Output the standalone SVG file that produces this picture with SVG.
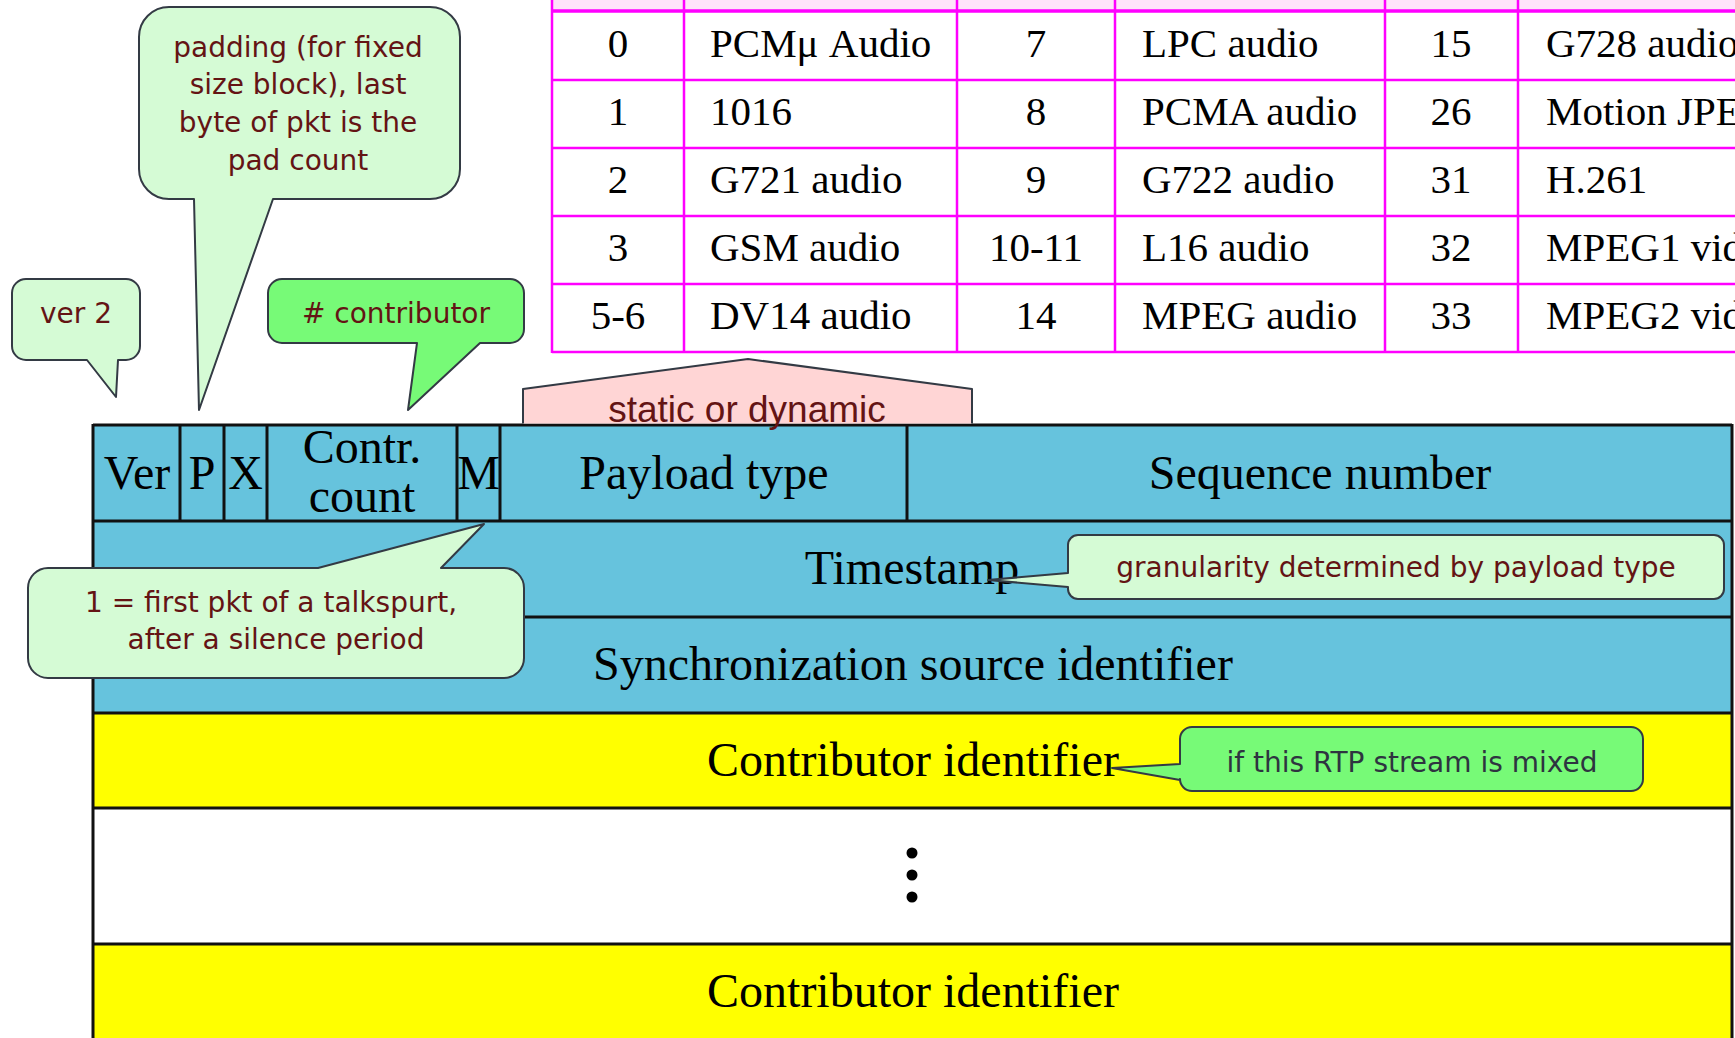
<svg xmlns="http://www.w3.org/2000/svg" width="1735" height="1038" viewBox="0 0 1735 1038">
  <style>
    .serif { font-family: "Liberation Serif", "Times New Roman", serif; fill: #000; }
    .tbl { font-size: 41px; }
    .fld { font-size: 48px; }
    .mid { text-anchor: middle; }
    .grid { stroke: #ff00ff; stroke-width: 2.5; fill: none; }
    .cell { stroke: #111; stroke-width: 3; }
    .blue { fill: #66c3dd; }
    .yellow { fill: #ffff00; }
    .note { stroke: #333a44; stroke-width: 2; stroke-linejoin: round; }
    .pale { fill: #d5fbd5; }
    .bright { fill: #77fa77; }
    .pink { fill: #ffd5d5; }
    .ntext { font-family: "DejaVu Sans", Verdana, sans-serif; font-size: 28px; fill: #641414; text-anchor: middle; }
    .ntext.dark { fill: #2e3440; }
    .stext { font-family: "Liberation Sans", Arial, sans-serif; font-size: 37px; fill: #641414; text-anchor: middle; }
  </style>

  <rect width="1735" height="1038" fill="#ffffff"/>

  <!-- payload type table (runs past the right edge) -->
  <g id="payload-table">
    <rect x="552" y="0" width="1183" height="11" fill="#ffe4fa"/>
    <g class="grid">
      <line x1="552" y1="11" x2="1735" y2="11" stroke-width="3.5"/>
      <line x1="552" y1="80" x2="1735" y2="80"/>
      <line x1="552" y1="148" x2="1735" y2="148"/>
      <line x1="552" y1="216" x2="1735" y2="216"/>
      <line x1="552" y1="284" x2="1735" y2="284"/>
      <line x1="552" y1="352" x2="1735" y2="352"/>
      <line x1="552" y1="0" x2="552" y2="353"/>
      <line x1="684" y1="0" x2="684" y2="353"/>
      <line x1="957" y1="0" x2="957" y2="353"/>
      <line x1="1115" y1="0" x2="1115" y2="353"/>
      <line x1="1385" y1="0" x2="1385" y2="353"/>
      <line x1="1518" y1="0" x2="1518" y2="353"/>
    </g>
    <g class="serif tbl">
      <text x="618" y="57" class="mid">0</text>
      <text x="710" y="57">PCMμ Audio</text>
      <text x="1036" y="57" class="mid">7</text>
      <text x="1142" y="57">LPC audio</text>
      <text x="1451" y="57" class="mid">15</text>
      <text x="1546" y="57">G728 audio</text>

      <text x="618" y="125" class="mid">1</text>
      <text x="710" y="125">1016</text>
      <text x="1036" y="125" class="mid">8</text>
      <text x="1142" y="125">PCMA audio</text>
      <text x="1451" y="125" class="mid">26</text>
      <text x="1546" y="125">Motion JPEG</text>

      <text x="618" y="193" class="mid">2</text>
      <text x="710" y="193">G721 audio</text>
      <text x="1036" y="193" class="mid">9</text>
      <text x="1142" y="193">G722 audio</text>
      <text x="1451" y="193" class="mid">31</text>
      <text x="1546" y="193">H.261</text>

      <text x="618" y="261" class="mid">3</text>
      <text x="710" y="261">GSM audio</text>
      <text x="1036" y="261" class="mid">10-11</text>
      <text x="1142" y="261">L16 audio</text>
      <text x="1451" y="261" class="mid">32</text>
      <text x="1546" y="261">MPEG1 video</text>

      <text x="618" y="329" class="mid">5-6</text>
      <text x="710" y="329">DV14 audio</text>
      <text x="1036" y="329" class="mid">14</text>
      <text x="1142" y="329">MPEG audio</text>
      <text x="1451" y="329" class="mid">33</text>
      <text x="1546" y="329">MPEG2 video</text>
    </g>
  </g>

  <!-- RTP header layout -->
  <g id="rtp-header">
    <rect x="93" y="425" width="1639" height="288" class="blue"/>
    <rect x="93" y="713" width="1639" height="95" class="yellow"/>
    <rect x="93" y="808" width="1639" height="136" fill="#ffffff"/>
    <rect x="93" y="944" width="1639" height="100" class="yellow"/>
    <g class="cell">
      <line x1="93" y1="425" x2="1732" y2="425"/>
      <line x1="93" y1="521" x2="1732" y2="521"/>
      <line x1="93" y1="617" x2="1732" y2="617"/>
      <line x1="93" y1="713" x2="1732" y2="713"/>
      <line x1="93" y1="808" x2="1732" y2="808"/>
      <line x1="93" y1="944" x2="1732" y2="944"/>
      <line x1="93" y1="424" x2="93" y2="1038"/>
      <line x1="1732" y1="424" x2="1732" y2="1038"/>
      <line x1="180" y1="425" x2="180" y2="521"/>
      <line x1="224" y1="425" x2="224" y2="521"/>
      <line x1="267" y1="425" x2="267" y2="521"/>
      <line x1="457" y1="425" x2="457" y2="521"/>
      <line x1="500" y1="425" x2="500" y2="521"/>
      <line x1="907" y1="425" x2="907" y2="521"/>
    </g>
    <g class="serif fld mid">
      <text x="137" y="489">Ver</text>
      <text x="202" y="489">P</text>
      <text x="245.5" y="489">X</text>
      <text x="362" y="463">Contr.</text>
      <text x="362" y="512">count</text>
      <text x="478.5" y="489">M</text>
      <text x="704" y="489">Payload type</text>
      <text x="1320" y="489">Sequence number</text>
      <text x="912" y="584">Timestamp</text>
      <text x="913" y="680">Synchronization source identifier</text>
      <text x="913" y="776">Contributor identifier</text>
      <text x="913" y="1007">Contributor identifier</text>
    </g>
    <g fill="#000">
      <circle cx="912" cy="853" r="5.5"/>
      <circle cx="912" cy="875" r="5.5"/>
      <circle cx="912" cy="897" r="5.5"/>
    </g>
  </g>

  <!-- callout notes -->
  <g id="note-version">
    <path class="note pale" d="M26,279 H126 A14,14 0 0 1 140,293 V346 A14,14 0 0 1 126,360 H118 L116,397 L87,360 H26 A14,14 0 0 1 12,346 V293 A14,14 0 0 1 26,279 Z"/>
    <text class="ntext" x="76" y="323">ver 2</text>
  </g>

  <g id="note-padding">
    <path class="note pale" d="M169,7 H430 A30,30 0 0 1 460,37 V169 A30,30 0 0 1 430,199 H273 L199,410 L194,199 H169 A30,30 0 0 1 139,169 V37 A30,30 0 0 1 169,7 Z"/>
    <text class="ntext" x="298" y="57">padding (for fixed</text>
    <text class="ntext" x="298" y="94">size block), last</text>
    <text class="ntext" x="298" y="132">byte of pkt is the</text>
    <text class="ntext" x="298" y="170">pad count</text>
  </g>

  <g id="note-contributor-count">
    <path class="note bright" d="M282,279 H510 A14,14 0 0 1 524,293 V329 A14,14 0 0 1 510,343 H480 L408,410 L417,343 H282 A14,14 0 0 1 268,329 V293 A14,14 0 0 1 282,279 Z"/>
    <text class="ntext" x="396" y="323"># contributor</text>
  </g>

  <g id="note-payload-kind">
    <path class="pink" d="M523,423.5 V389 L748,359 L972,389 V423.5 Z"/>
    <path class="note" fill="none" d="M523,423.5 V389 L748,359 L972,389 V423.5"/>
    <text class="stext" x="747" y="422">static or dynamic</text>
  </g>

  <g id="note-marker">
    <path class="note pale" d="M48,568 H318 L484,524 L441,568 H504 A20,20 0 0 1 524,588 V658 A20,20 0 0 1 504,678 H48 A20,20 0 0 1 28,658 V588 A20,20 0 0 1 48,568 Z"/>
    <text class="ntext" x="271" y="612">1 = first pkt of a talkspurt,</text>
    <text class="ntext" x="276" y="649">after a silence period</text>
  </g>

  <g id="note-timestamp">
    <path class="note pale" d="M1078,535 H1714 A10,10 0 0 1 1724,545 V589 A10,10 0 0 1 1714,599 H1078 A10,10 0 0 1 1068,589 V587 L988,580 L1068,573 V545 A10,10 0 0 1 1078,535 Z"/>
    <text class="ntext" x="1396" y="577">granularity determined by payload type</text>
  </g>

  <g id="note-mixer">
    <path class="note bright" d="M1192,727 H1631 A12,12 0 0 1 1643,739 V779 A12,12 0 0 1 1631,791 H1192 A12,12 0 0 1 1180,779 V780 L1112,768 L1180,764 V739 A12,12 0 0 1 1192,727 Z"/>
    <text class="ntext dark" x="1412" y="772">if this RTP stream is mixed</text>
  </g>
</svg>
